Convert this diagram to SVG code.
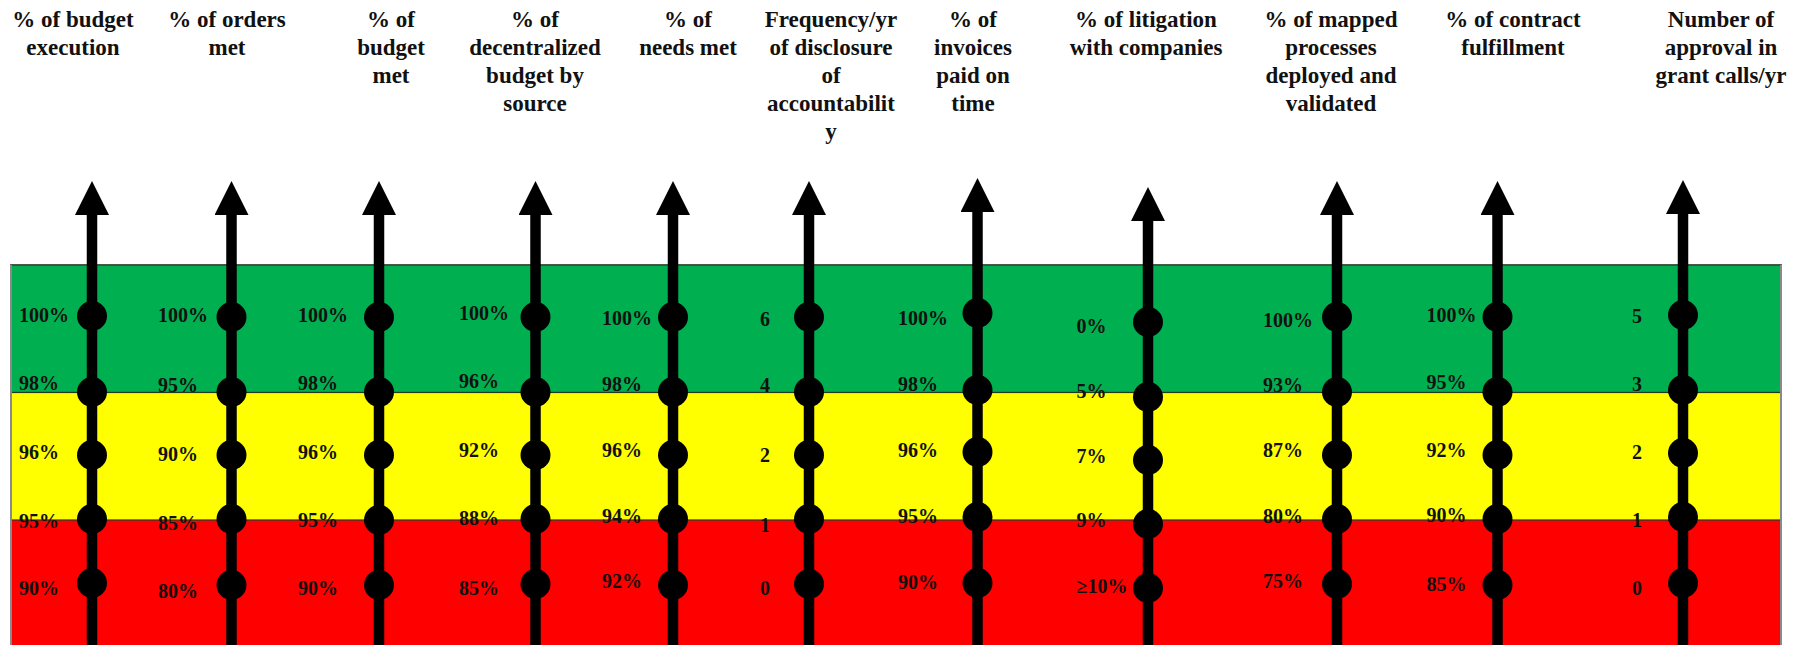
<svg xmlns="http://www.w3.org/2000/svg" width="1800" height="645" viewBox="0 0 1800 645">
  <style>
    .title { font-family: "Liberation Serif", "Times New Roman", serif; font-weight: bold; font-size: 23px; fill: #111; text-anchor: middle; }
    .val { font-family: "Liberation Serif", "Times New Roman", serif; font-weight: bold; font-size: 20px; fill: #111; }
    .shaft { stroke: #000; stroke-width: 10.5; fill: none; marker-end: url(#head); }
    .dot { fill: #000; }
    .band { stroke: #1f3a1f; stroke-width: 1.2; }
  </style>
  <defs>
    <marker id="head" viewBox="0 0 34 34" markerUnits="userSpaceOnUse" markerWidth="34" markerHeight="34" refX="0" refY="17" orient="auto">
      <path d="M0,0 L34,17 L0,34 Z" fill="#000"/>
    </marker>
  </defs>

  <rect width="1800" height="645" fill="#fff"/>

  <!-- rating bands -->
  <g id="bands">
    <rect x="11" y="265" width="1770" height="390" fill="#ff0000" stroke="#8a8a8a" stroke-width="2"/>
    <rect class="band" x="11" y="265" width="1770" height="127.5" fill="#00b050"/>
    <rect class="band" x="11" y="392.5" width="1770" height="127.5" fill="#ffff00"/>
    <line x1="11" y1="265" x2="11" y2="645" stroke="#8a8a8a" stroke-width="2"/>
    <line x1="1781" y1="265" x2="1781" y2="645" stroke="#8a8a8a" stroke-width="2"/>
  </g>

  <!-- indicator axes -->
  <g id="connectors">
    <line class="shaft" x1="92" y1="645" x2="92" y2="215"/>
    <line class="shaft" x1="231.5" y1="645" x2="231.5" y2="215"/>
    <line class="shaft" x1="379" y1="645" x2="379" y2="215"/>
    <line class="shaft" x1="535.5" y1="645" x2="535.5" y2="215"/>
    <line class="shaft" x1="673" y1="645" x2="673" y2="215"/>
    <line class="shaft" x1="809" y1="645" x2="809" y2="215"/>
    <line class="shaft" x1="977.5" y1="645" x2="977.5" y2="212"/>
    <line class="shaft" x1="1148" y1="645" x2="1148" y2="221"/>
    <line class="shaft" x1="1337" y1="645" x2="1337" y2="215"/>
    <line class="shaft" x1="1497.5" y1="645" x2="1497.5" y2="215"/>
    <line class="shaft" x1="1683" y1="645" x2="1683" y2="214"/>
  </g>

  <g id="budget-execution">
    <text class="title" x="73"><tspan x="73" y="27">% of budget</tspan><tspan x="73" y="55">execution</tspan></text>
    <text class="val" x="19" y="322">100%</text>
    <text class="val" x="19" y="390">98%</text>
    <text class="val" x="19" y="459">96%</text>
    <text class="val" x="19" y="528">95%</text>
    <text class="val" x="19" y="595">90%</text>
    <circle class="dot" cx="92" cy="316" r="15"/>
    <circle class="dot" cx="92" cy="392" r="15"/>
    <circle class="dot" cx="92" cy="455" r="15"/>
    <circle class="dot" cx="92" cy="519" r="15"/>
    <circle class="dot" cx="92" cy="583" r="15"/>
  </g>

  <g id="orders-met">
    <text class="title"><tspan x="227" y="27">% of orders</tspan><tspan x="227" y="55">met</tspan></text>
    <text class="val" x="158" y="322">100%</text>
    <text class="val" x="158" y="392">95%</text>
    <text class="val" x="158" y="461">90%</text>
    <text class="val" x="158" y="530">85%</text>
    <text class="val" x="158" y="598">80%</text>
    <circle class="dot" cx="231.5" cy="317" r="15"/>
    <circle class="dot" cx="231.5" cy="392" r="15"/>
    <circle class="dot" cx="231.5" cy="455" r="15"/>
    <circle class="dot" cx="231.5" cy="519" r="15"/>
    <circle class="dot" cx="231.5" cy="585" r="15"/>
  </g>

  <g id="budget-met">
    <text class="title"><tspan x="391" y="27">% of</tspan><tspan x="391" y="55">budget</tspan><tspan x="391" y="83">met</tspan></text>
    <text class="val" x="298" y="322">100%</text>
    <text class="val" x="298" y="390">98%</text>
    <text class="val" x="298" y="459">96%</text>
    <text class="val" x="298" y="527">95%</text>
    <text class="val" x="298" y="595">90%</text>
    <circle class="dot" cx="379" cy="317" r="15"/>
    <circle class="dot" cx="379" cy="392" r="15"/>
    <circle class="dot" cx="379" cy="455" r="15"/>
    <circle class="dot" cx="379" cy="520" r="15"/>
    <circle class="dot" cx="379" cy="585" r="15"/>
  </g>

  <g id="decentralized-budget">
    <text class="title"><tspan x="535" y="27">% of</tspan><tspan x="535" y="55">decentralized</tspan><tspan x="535" y="83">budget by</tspan><tspan x="535" y="111">source</tspan></text>
    <text class="val" x="459" y="320">100%</text>
    <text class="val" x="459" y="388">96%</text>
    <text class="val" x="459" y="457">92%</text>
    <text class="val" x="459" y="525">88%</text>
    <text class="val" x="459" y="595">85%</text>
    <circle class="dot" cx="535.5" cy="317" r="15"/>
    <circle class="dot" cx="535.5" cy="392" r="15"/>
    <circle class="dot" cx="535.5" cy="455" r="15"/>
    <circle class="dot" cx="535.5" cy="519" r="15"/>
    <circle class="dot" cx="535.5" cy="584" r="15"/>
  </g>

  <g id="needs-met">
    <text class="title"><tspan x="688" y="27">% of</tspan><tspan x="688" y="55">needs met</tspan></text>
    <text class="val" x="602" y="325">100%</text>
    <text class="val" x="602" y="391">98%</text>
    <text class="val" x="602" y="457">96%</text>
    <text class="val" x="602" y="523">94%</text>
    <text class="val" x="602" y="588">92%</text>
    <circle class="dot" cx="673" cy="317" r="15"/>
    <circle class="dot" cx="673" cy="392" r="15"/>
    <circle class="dot" cx="673" cy="455" r="15"/>
    <circle class="dot" cx="673" cy="519" r="15"/>
    <circle class="dot" cx="673" cy="585" r="15"/>
  </g>

  <g id="disclosure-frequency">
    <text class="title"><tspan x="831" y="27">Frequency/yr</tspan><tspan x="831" y="55">of disclosure</tspan><tspan x="831" y="83">of</tspan><tspan x="831" y="111">accountabilit</tspan><tspan x="831" y="139">y</tspan></text>
    <text class="val" x="760" y="326">6</text>
    <text class="val" x="760" y="392">4</text>
    <text class="val" x="760" y="462">2</text>
    <text class="val" x="760" y="532">1</text>
    <text class="val" x="760" y="595">0</text>
    <circle class="dot" cx="809" cy="317" r="15"/>
    <circle class="dot" cx="809" cy="392" r="15"/>
    <circle class="dot" cx="809" cy="455" r="15"/>
    <circle class="dot" cx="809" cy="519" r="15"/>
    <circle class="dot" cx="809" cy="584" r="15"/>
  </g>

  <g id="invoices-on-time">
    <text class="title"><tspan x="973" y="27">% of</tspan><tspan x="973" y="55">invoices</tspan><tspan x="973" y="83">paid on</tspan><tspan x="973" y="111">time</tspan></text>
    <text class="val" x="898" y="325">100%</text>
    <text class="val" x="898" y="391">98%</text>
    <text class="val" x="898" y="457">96%</text>
    <text class="val" x="898" y="523">95%</text>
    <text class="val" x="898" y="589">90%</text>
    <circle class="dot" cx="977.5" cy="313" r="15"/>
    <circle class="dot" cx="977.5" cy="390" r="15"/>
    <circle class="dot" cx="977.5" cy="452" r="15"/>
    <circle class="dot" cx="977.5" cy="517" r="15"/>
    <circle class="dot" cx="977.5" cy="583" r="15"/>
  </g>

  <g id="litigation">
    <text class="title"><tspan x="1146" y="27">% of litigation</tspan><tspan x="1146" y="55">with companies</tspan></text>
    <text class="val" x="1076.5" y="333">0%</text>
    <text class="val" x="1076.5" y="398">5%</text>
    <text class="val" x="1076.5" y="463">7%</text>
    <text class="val" x="1076.5" y="527">9%</text>
    <text class="val" x="1076.5" y="593">≥10%</text>
    <circle class="dot" cx="1148" cy="322" r="15"/>
    <circle class="dot" cx="1148" cy="397" r="15"/>
    <circle class="dot" cx="1148" cy="460" r="15"/>
    <circle class="dot" cx="1148" cy="524" r="15"/>
    <circle class="dot" cx="1148" cy="588" r="15"/>
  </g>

  <g id="mapped-processes">
    <text class="title"><tspan x="1331" y="27">% of mapped</tspan><tspan x="1331" y="55">processes</tspan><tspan x="1331" y="83">deployed and</tspan><tspan x="1331" y="111">validated</tspan></text>
    <text class="val" x="1263" y="327">100%</text>
    <text class="val" x="1263" y="392">93%</text>
    <text class="val" x="1263" y="457">87%</text>
    <text class="val" x="1263" y="523">80%</text>
    <text class="val" x="1263" y="588">75%</text>
    <circle class="dot" cx="1337" cy="317" r="15"/>
    <circle class="dot" cx="1337" cy="392" r="15"/>
    <circle class="dot" cx="1337" cy="455" r="15"/>
    <circle class="dot" cx="1337" cy="519" r="15"/>
    <circle class="dot" cx="1337" cy="584" r="15"/>
  </g>

  <g id="contract-fulfillment">
    <text class="title"><tspan x="1513" y="27">% of contract</tspan><tspan x="1513" y="55">fulfillment</tspan></text>
    <text class="val" x="1426.5" y="322">100%</text>
    <text class="val" x="1426.5" y="389">95%</text>
    <text class="val" x="1426.5" y="457">92%</text>
    <text class="val" x="1426.5" y="522">90%</text>
    <text class="val" x="1426.5" y="591">85%</text>
    <circle class="dot" cx="1497.5" cy="317" r="15"/>
    <circle class="dot" cx="1497.5" cy="392" r="15"/>
    <circle class="dot" cx="1497.5" cy="455" r="15"/>
    <circle class="dot" cx="1497.5" cy="519" r="15"/>
    <circle class="dot" cx="1497.5" cy="585" r="15"/>
  </g>

  <g id="grant-approvals">
    <text class="title"><tspan x="1721" y="27">Number of</tspan><tspan x="1721" y="55">approval in</tspan><tspan x="1721" y="83">grant calls/yr</tspan></text>
    <text class="val" x="1632" y="323">5</text>
    <text class="val" x="1632" y="391">3</text>
    <text class="val" x="1632" y="459">2</text>
    <text class="val" x="1632" y="527">1</text>
    <text class="val" x="1632" y="595">0</text>
    <circle class="dot" cx="1683" cy="315" r="15"/>
    <circle class="dot" cx="1683" cy="390" r="15"/>
    <circle class="dot" cx="1683" cy="453" r="15"/>
    <circle class="dot" cx="1683" cy="517" r="15"/>
    <circle class="dot" cx="1683" cy="583" r="15"/>
  </g>
</svg>
